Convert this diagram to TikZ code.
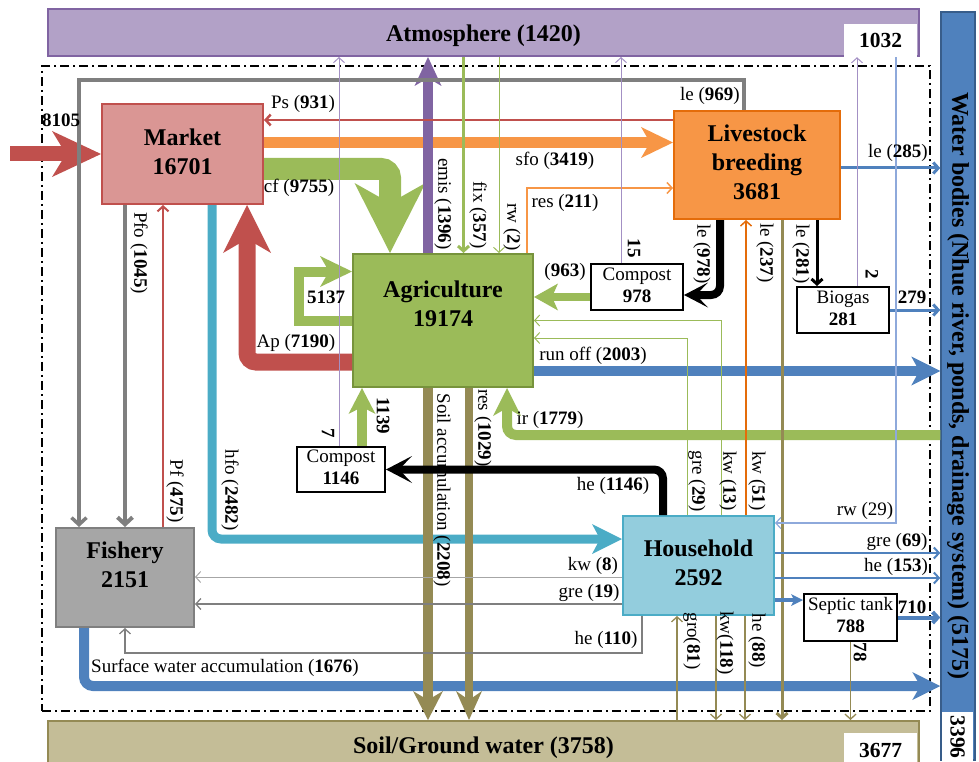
\documentclass[tikz,border=0pt]{standalone}
\usepackage{fontspec}
\setmainfont{Liberation Serif}
\usepackage{graphicx}
\usetikzlibrary{arrows.meta}
\definecolor{cRed}{HTML}{C0504D}
\definecolor{cRedF}{HTML}{DA9694}
\definecolor{cOr}{HTML}{F79646}
\definecolor{cOrD}{HTML}{E46C0A}
\definecolor{cGr}{HTML}{9BBB59}
\definecolor{cGrD}{HTML}{77933C}
\definecolor{cCy}{HTML}{4BACC6}
\definecolor{cCyF}{HTML}{93CDDD}
\definecolor{cBl}{HTML}{4F81BD}
\definecolor{cBlD}{HTML}{385D8A}
\definecolor{cBlL}{HTML}{8EA9DB}
\definecolor{cOl}{HTML}{948A54}
\definecolor{cOlF}{HTML}{C4BD97}
\definecolor{cGy}{HTML}{7F7F7F}
\definecolor{cGyF}{HTML}{A6A6A6}
\definecolor{cPu}{HTML}{8064A2}
\definecolor{cPuF}{HTML}{B2A1C7}
\definecolor{cPuL}{HTML}{A390C4}
\newcommand{\bx}[2]{\raisebox{0pt}[\height][\dimexpr\depth+#1\relax]{\begin{tabular}{@{}c@{}}#2\end{tabular}}}
\newcommand{\dn}[2]{\raisebox{0pt}[\dimexpr\height+#1\relax][\depth]{#2}}
\begin{document}
\begin{tikzpicture}[x=1pt,y=-1pt,
  lbl/.style={font=\fontsize{19}{22}\selectfont, inner sep=0pt},
  rl/.style={lbl, rotate=-90},
  ttl/.style={font=\fontsize{24}{29}\selectfont\bfseries, inner sep=0pt},
  bignum/.style={fill=white, inner sep=0pt, font=\fontsize{21.5}{24}\selectfont\bfseries},
  sm/.style={draw=black, line width=2pt, fill=white, font=\fontsize{19}{22}\selectfont, inner sep=0pt},
  frame/.style={draw, line width=1.5pt, dash pattern=on 9pt off 4pt on 2pt off 4pt},
  barb/.style={-{Straight Barb[length=5pt,width=11pt]}},
  gbarb/.style={-{Straight Barb[length=7pt,width=15pt]}},
  stl/.style n args={3}{-{Stealth[length=#1,width=#2,inset=#3,line width=0pt]}},
  thick flow/.style={line cap=butt, rounded corners=9pt}
]
\path[use as bounding box] (0,0) rectangle (979,762);

% frame
\node[frame, minimum width=888pt, minimum height=645pt, inner sep=0pt] (frame) at (486,388.5) {};

% reservoirs
\node[ttl, draw=cPu, fill=cPuF, line width=2pt, minimum width=871pt, minimum height=47pt] (atm) at (483.5,32.5) {\dn{6pt}{Atmosphere (1420)}};
\node[ttl, draw=cOl, fill=cOlF, line width=2pt, minimum width=871pt, minimum height=49pt] (soil) at (483.5,745.5) {\dn{5pt}{Soil/Ground water (3758)}};
\node[ttl, draw=cBlD, fill=cBl, line width=1.5pt, minimum width=34pt, minimum height=748pt] (water) at (958,386) {\rotatebox{-90}{Water bodies (Nhue river, ponds, drainage system) (5175)}};
\node[bignum, minimum width=73pt, minimum height=33pt] (b1032) at (880.5,40.5) {1032};
\node[bignum, minimum width=73pt, minimum height=34pt] (b3677) at (880.5,750) {3677};
\node[bignum, minimum width=31pt, minimum height=50pt] (b3396) at (957.5,737) {\rotatebox{-90}{3396}};

% sectors
\node[ttl, draw=cRed, fill=cRedF, line width=2pt, minimum width=161pt, minimum height=100pt] (market) at (182.5,154) {\bx{0pt}{Market\\16701}};
\node[ttl, draw=cOrD, fill=cOr, line width=2pt, minimum width=166pt, minimum height=108pt] (livestock) at (757,165) {\bx{0pt}{Livestock\\breeding\\3681}};
\node[ttl, draw=cGrD, fill=cGr, line width=2pt, minimum width=180pt, minimum height=133pt] (agri) at (443,320.5) {\bx{28pt}{Agriculture\\19174}};
\node[ttl, draw=cGy, fill=cGyF, line width=2pt, minimum width=138pt, minimum height=99pt] (fishery) at (125,577.5) {\bx{20pt}{Fishery\\2151}};
\node[ttl, draw=cCy, fill=cCyF, line width=2pt, minimum width=151pt, minimum height=99pt] (household) at (698.5,565.5) {\bx{0pt}{Household\\2592}};
\node[sm, minimum width=92pt, minimum height=46pt] (c978) at (637,287) {\bx{0pt}{Compost\\\textbf{978}}};
\node[sm, minimum width=88pt, minimum height=45pt] (c1146) at (341,469.5) {\bx{0pt}{Compost\\\textbf{1146}}};
\node[sm, minimum width=92pt, minimum height=46pt] (biogas) at (843,310) {\bx{0pt}{Biogas\\\textbf{281}}};
\node[sm, minimum width=93pt, minimum height=47pt] (septic) at (850.5,617.5) {\bx{0pt}{Septic tank\\\textbf{788}}};

% thick flows
\coordinate (src) at (10,154);
\draw[cRed, line width=15pt, stl={49pt}{46pt}{14pt}] (src) -- (market.west);
\draw[cBl, line width=10pt, thick flow, stl={28pt}{28pt}{8pt}] ([xshift=-41pt]fishery.south) |- ([yshift=-300pt]water.west);
\draw[cCy, line width=9pt, thick flow, stl={30pt}{30pt}{8pt}] ([xshift=29.5pt]market.south) |- ([yshift=26.5pt]household.west);
\draw[cBl, line width=10pt, stl={29pt}{29pt}{8pt}] ([yshift=-50.5pt]agri.east) -- ([yshift=-50.5pt]agri.east -| water.west);
\draw[cGr, line width=10pt, thick flow, stl={28pt}{28pt}{8pt}] ([yshift=-49pt]water.west) -| ([xshift=64pt]agri.south);
\draw[cOr, line width=11pt, stl={32pt}{31pt}{9pt}] ([yshift=11.5pt]market.east) -- ([yshift=11.5pt]market.east -| livestock.west);
\draw[cGr, line width=22pt, thick flow, stl={70pt}{71pt}{20pt}] ([yshift=-15pt]market.east) -| ([xshift=-53pt]agri.north);
\draw[cRed, line width=17pt, thick flow, stl={48pt}{48pt}{14pt}] ([yshift=-41.5pt]agri.west) -| ([xshift=64.5pt]market.south);
\draw[cGr, line width=10pt, stl={32pt}{31pt}{9pt}] (agri.west) -- ++(-53,0) -- ++(0,-49) -- ([yshift=49pt]agri.west);
\draw[cPu, line width=10pt, stl={29pt}{27pt}{8pt}] ([xshift=-15pt]agri.north) -- ([xshift=-15pt]agri.north |- atm.south);
\draw[cGr, line width=8pt, stl={24pt}{27pt}{6pt}] ([yshift=-10pt]c978.west) -- ([yshift=-10pt]c978.west -| agri.east);
\draw[cGr, line width=10pt, stl={26pt}{27pt}{7pt}] ([xshift=21pt]c1146.north) -- ([xshift=21pt]c1146.north |- agri.south);
\draw[cOl, line width=10pt, stl={29pt}{30pt}{9pt}] ([xshift=-15pt]agri.south) -- ([xshift=-15pt]agri.south |- soil.north);
\draw[cOl, line width=8pt, stl={29pt}{26pt}{9pt}] ([xshift=26pt]agri.south) -- ([xshift=26pt]agri.south |- soil.north);

% medium flows
\draw[cGy, line width=3.5pt, gbarb] ([xshift=-13pt]livestock.north) -- ++(0,-30) -| ([xshift=-46pt]fishery.north);
\draw[cGy, line width=4pt, gbarb] (market.south -| fishery.north) -- (fishery.north);
\draw[cRed, line width=2pt, barb] ([xshift=38pt]fishery.north) -- ([xshift=38pt]fishery.north |- market.south);
\draw[cRed, line width=2.5pt, barb] ([yshift=45pt]livestock.west) -- ([yshift=45pt]livestock.west -| market.east);
\draw[cGr, line width=3pt, barb] ([xshift=20.5pt]agri.north |- atm.south) -- ([xshift=20.5pt]agri.north);
\draw[cGr, line width=1pt, barb] ([xshift=56pt]agri.north |- atm.south) -- ([xshift=56pt]agri.north);
\draw[cOr, line width=1.5pt, barb] ([xshift=84pt]agri.north) |- ([yshift=-23pt]livestock.west);
\draw[cOl, line width=3pt, barb] ([xshift=25pt]livestock.south) -- ([xshift=25pt]livestock.south |- soil.north);
\draw[black, line width=3pt, barb] ([xshift=60pt]livestock.south) -- ([xshift=60pt]livestock.south |- biogas.north);
\draw[cBl, line width=3pt, barb] ([yshift=-3pt]livestock.east) -- ([yshift=-3pt]livestock.east -| water.west);
\draw[cBl, line width=3pt, barb] (biogas.east) -- (biogas.east -| water.west);
\draw[cBl, line width=2pt, barb] ([yshift=12.5pt]household.east) -- ([yshift=12.5pt]household.east -| water.west);
\draw[cBl, line width=2pt, barb] ([yshift=-12.5pt]household.east) -- ([yshift=-12.5pt]household.east -| water.west);
\draw[cBl, line width=4pt, stl={12pt}{12pt}{3pt}] ([yshift=-34.5pt]household.east) -- ([yshift=-34.5pt]household.east -| septic.west);
\draw[cBl, line width=4pt, barb] (septic.east) -- (septic.east -| water.west);

% thin flows
\draw[cGyF, line width=1pt, barb] ([yshift=-11.5pt]household.west) -- ([yshift=-11.5pt]household.west -| fishery.east);
\draw[cGy, line width=1.3pt, barb] ([yshift=-38.5pt]household.west) -- ([yshift=-38.5pt]household.west -| fishery.east);
\draw[cGy, line width=1.3pt, barb] ([xshift=-56.5pt]household.south) -- ++(0,37) -| (fishery.south);
\draw[cOl, line width=1.3pt, barb] (septic.south) -- (septic.south |- soil.north);
\draw[cOl, line width=1.3pt, barb] ([xshift=-21.5pt]household.south |- soil.north) -- ([xshift=-21.5pt]household.south);
\draw[cOl, line width=1.3pt, barb] ([xshift=17.5pt]household.south) -- ([xshift=17.5pt]household.south |- soil.north);
\draw[cOl, line width=1.3pt, barb] ([xshift=46.5pt]household.south) -- ([xshift=46.5pt]household.south |- soil.north);
\draw[cOrD, line width=1.5pt, barb] ([xshift=47.5pt]household.north) -- ([xshift=47.5pt]household.north |- livestock.south);
\draw[cGr, line width=1pt, barb] ([xshift=22.5pt]household.north) |- (agri.east);
\draw[cGr, line width=1pt, barb] ([xshift=-11.5pt]household.north) |- ([yshift=-17.5pt]agri.east);
\draw[cBlL, line width=1.2pt, barb] ([xshift=15.5pt]b1032.south) |- ([yshift=42.5pt]household.east);
\draw[cPuL, line width=1pt, barb] ([xshift=-2pt]c1146.north) -- ([xshift=-2pt]c1146.north |- atm.south);
\draw[cPuL, line width=1pt, barb] ([xshift=-16pt]c978.north) -- ([xshift=-16pt]c978.north |- atm.south);
\draw[cPuL, line width=1pt, barb] ([xshift=14pt]biogas.north) -- ([xshift=14pt]biogas.north |- b1032.south);

% labels
\node[lbl, font=\fontsize{19}{22}\selectfont\bfseries] (l8105) at (61,120) {8105};
\node[lbl] (lPs) at (303,104) {Ps (\textbf{931})};
\node[lbl] (lsfo) at (555,161) {sfo (\textbf{3419})};
\node[lbl] (lcf) at (299,188) {cf (\textbf{9755})};
\node[lbl] (l969) at (710,96) {le (\textbf{969})};
\node[rl] (lemis) at (443,204) {emis (\textbf{1396})};
\node[rl] (lfix) at (478,215) {fix (\textbf{357})};
\node[rl] (lrw2) at (512,227) {rw (\textbf{2})};
\node[lbl] (lres) at (565,203) {res (\textbf{211})};
\node[lbl] (l285) at (898,153) {le (\textbf{285})};
\node[rl, font=\fontsize{19}{22}\selectfont\bfseries] (l15) at (634,248) {15};
\node[rl] (l978) at (702,254) {le (\textbf{978})};
\node[rl] (l237) at (765,253) {le (\textbf{237})};
\node[rl] (l281) at (801,254) {le (\textbf{281})};
\node[rl, font=\fontsize{19}{22}\selectfont\bfseries] (l2) at (872,274) {2};
\node[lbl, font=\fontsize{19}{22}\selectfont\bfseries] (l279) at (912,297) {279};
\node[lbl] (l963) at (565,272) {(\textbf{963})};
\node[lbl, font=\fontsize{19}{22}\selectfont\bfseries] (l5137) at (326,297) {5137};
\node[rl] (lPfo) at (139,253) {Pfo (\textbf{1045})};
\node[lbl] (lAp) at (296,343) {Ap (\textbf{7190})};
\node[lbl] (lrun) at (593,356) {run off (\textbf{2003})};
\node[lbl] (lir) at (550,420) {ir (\textbf{1779})};
\node[rl] (lres2) at (483,428) {res (\textbf{1029})};
\node[rl] (lsoil) at (442,490) {Soil accumulation (\textbf{2208})};
\node[rl, font=\fontsize{19}{22}\selectfont\bfseries] (l1139) at (383,416) {1139};
\node[rl, font=\fontsize{19}{22}\selectfont\bfseries] (l7) at (328,433) {7};
\node[lbl] (l1146) at (613,486) {he (\textbf{1146})};
\node[rl] (lgre29) at (697,481) {gre (\textbf{29})};
\node[rl] (lkw13) at (728,481) {kw (\textbf{13})};
\node[rl] (lkw51) at (757,481) {kw (\textbf{51})};
\node[lbl] (lrw29) at (865,511) {rw (29)};
\node[rl] (lPf) at (175,491) {Pf (\textbf{475})};
\node[rl] (lhfo) at (230,490) {hfo (\textbf{2482})};
\node[lbl] (lkw8) at (593,566) {kw (\textbf{8})};
\node[lbl] (lgre19) at (589,593) {gre (\textbf{19})};
\node[lbl] (lgre69) at (897,542) {gre (\textbf{69})};
\node[lbl] (lhe153) at (896,567) {he (\textbf{153})};
\node[lbl, font=\fontsize{19}{22}\selectfont\bfseries] (l710) at (912,607) {710};
\node[lbl] (lhe110) at (606,640) {he (\textbf{110})};
\node[rl] (lgro) at (692,641) {gro(\textbf{81})};
\node[rl] (lkw118) at (725,643) {kw(\textbf{118})};
\node[rl] (lhe88) at (757,641) {he (\textbf{88})};
\node[rl, font=\fontsize{19}{22}\selectfont\bfseries] (l78) at (860,652) {78};
\node[lbl, anchor=west] (lsurf) at (91,668) {Surface water accumulation (\textbf{1676})};

% black flows (drawn over the soil accumulation label)
\draw[black, line width=8pt, thick flow, stl={24pt}{25pt}{12pt}] ([xshift=-37pt]livestock.south) |- ([yshift=-8pt]c978.east);
\draw[black, line width=8pt, thick flow, stl={26pt}{27pt}{13pt}] ([xshift=-35.5pt]household.north) |- (c1146.east);
\end{tikzpicture}
\end{document}
